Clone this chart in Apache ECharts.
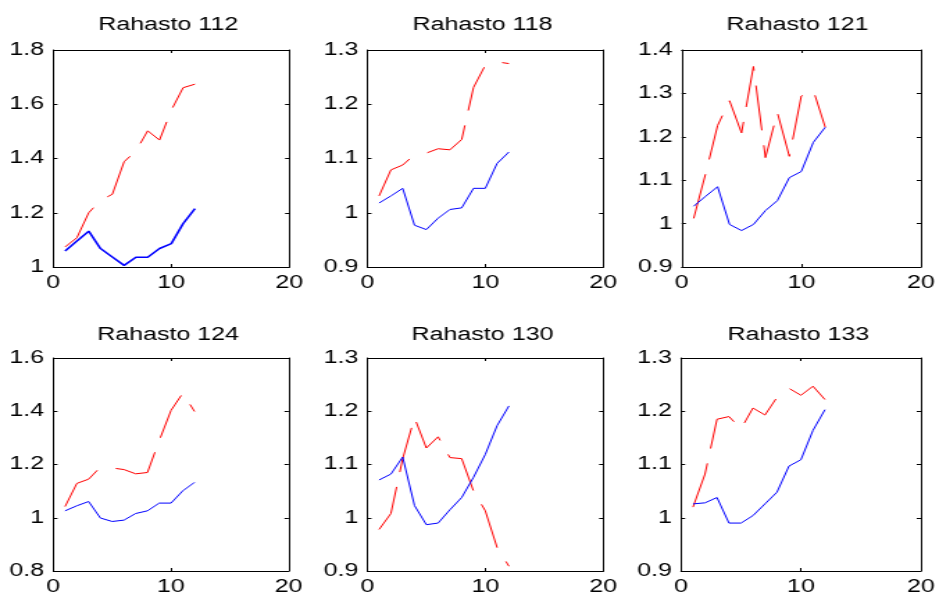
<!DOCTYPE html>
<html><head><meta charset="utf-8">
<script src="https://cdn.jsdelivr.net/npm/echarts@6/dist/echarts.min.js"></script>
<style>
html,body{margin:0;padding:0;background:#fff;overflow:hidden;width:939px;height:597px}
#chart{width:676px;height:597px;transform:scaleX(1.389);transform-origin:0 0}
</style></head><body><div id="chart"></div>
<script>
// ---- data ----
const months = [1, 2, 3, 4, 5, 6, 7, 8, 9, 10, 11, 12];
const fundNames = ['Rahasto 112', 'Rahasto 118', 'Rahasto 121', 'Rahasto 124', 'Rahasto 130', 'Rahasto 133'];
const xTicks = [0, 10, 20];
const yTicks112 = [1, 1.2, 1.4, 1.6, 1.8];
const yTicks118 = [0.9, 1, 1.1, 1.2, 1.3];
const yTicks121 = [0.9, 1, 1.1, 1.2, 1.3, 1.4];
const yTicks124 = [0.8, 1, 1.2, 1.4, 1.6];
const yTicks130 = [0.9, 1, 1.1, 1.2, 1.3];
const yTicks133 = [0.9, 1, 1.1, 1.2, 1.3];

const blue112 = [1.059, 1.096, 1.132, 1.068, 1.037, 1.006, 1.036, 1.036, 1.068, 1.086, 1.160, 1.215];
const red112  = [1.074, 1.108, 1.200, 1.246, 1.268, 1.388, 1.428, 1.502, 1.468, 1.578, 1.661, 1.674];
const blue118 = [1.018, 1.031, 1.045, 0.977, 0.969, 0.990, 1.006, 1.009, 1.045, 1.045, 1.091, 1.112];
const red118  = [1.031, 1.079, 1.088, 1.107, 1.110, 1.118, 1.116, 1.135, 1.231, 1.272, 1.278, 1.275];
const blue121 = [1.040, 1.063, 1.085, 0.998, 0.984, 0.998, 1.030, 1.053, 1.106, 1.120, 1.187, 1.222];
const red121  = [1.012, 1.115, 1.226, 1.283, 1.209, 1.362, 1.152, 1.256, 1.155, 1.294, 1.308, 1.222];
const blue124 = [1.026, 1.045, 1.061, 0.999, 0.986, 0.991, 1.016, 1.026, 1.055, 1.055, 1.101, 1.133];
const red124  = [1.042, 1.129, 1.145, 1.190, 1.187, 1.181, 1.165, 1.170, 1.290, 1.403, 1.468, 1.399];
const blue130 = [1.071, 1.082, 1.114, 1.023, 0.987, 0.990, 1.015, 1.038, 1.076, 1.119, 1.173, 1.210];
const red130  = [0.978, 1.008, 1.111, 1.188, 1.131, 1.152, 1.113, 1.111, 1.050, 1.013, 0.944, 0.909];
const blue133 = [1.026, 1.028, 1.038, 0.990, 0.990, 1.004, 1.026, 1.048, 1.097, 1.109, 1.164, 1.203];
const red133  = [1.020, 1.082, 1.185, 1.190, 1.167, 1.206, 1.193, 1.226, 1.243, 1.230, 1.247, 1.222];

const blueSeries = [blue112, blue118, blue121, blue124, blue130, blue133];
const redSeries = [red112, red118, red121, red124, red130, red133];
const yTickSets = [yTicks112, yTicks118, yTicks121, yTicks124, yTicks130, yTicks133];

// ---- layout (screen px, horizontally compressed by SX inside the transformed div) ----
const SX = 1.389;
const boxes = [
  {l: 53.3, r: 289.3, t: 50, b: 267, tx: 168.3, ty: 25},
  {l: 367.3, r: 603.3, t: 50, b: 267, tx: 482.5, ty: 25},
  {l: 681.7, r: 921.7, t: 50, b: 267, tx: 797.5, ty: 25},
  {l: 53.3, r: 288.7, t: 358, b: 571, tx: 168, ty: 335},
  {l: 367.3, r: 603.3, t: 358, b: 571, tx: 482.5, ty: 335},
  {l: 681.0, r: 921.7, t: 358, b: 571, tx: 798.3, ty: 335}
];
const FONT = 'Liberation Sans, Arial, sans-serif';
const FS = 18;
const fmt = v => String(+(+v).toFixed(2));

const grid = [], xAxis = [], yAxis = [], series = [], graphic = [];
boxes.forEach((b, i) => {
  grid.push({left: b.l / SX, top: b.t, width: (b.r - b.l) / SX, height: b.b - b.t, show: false});
  const yt = yTickSets[i];
  const yMin = yt[0], yMax = yt[yt.length - 1];
  const yInt = +(yt[1] - yt[0]).toFixed(2);
  const axLine = {show: true, onZero: false, lineStyle: {color: '#000', width: 1}};
  const tick = {show: true, inside: true, length: 3, lineStyle: {color: '#000', width: 1}};
  const lbl = {show: true, color: '#000', fontFamily: FONT, fontSize: FS, formatter: fmt};
  xAxis.push({gridIndex: i, type: 'value', position: 'bottom', min: xTicks[0], max: xTicks[xTicks.length - 1],
    interval: xTicks[1] - xTicks[0], axisLine: axLine, axisTick: tick, splitLine: {show: false},
    axisLabel: Object.assign({margin: 7}, lbl)});
  xAxis.push({gridIndex: i, type: 'value', position: 'top', min: xTicks[0], max: xTicks[xTicks.length - 1],
    interval: xTicks[1] - xTicks[0], axisLine: axLine, axisTick: tick, splitLine: {show: false},
    axisLabel: {show: false}});
  yAxis.push({gridIndex: i, type: 'value', position: 'left', min: yMin, max: yMax, interval: yInt,
    axisLine: axLine, axisTick: tick, splitLine: {show: false}, axisLabel: Object.assign({margin: 6.5}, lbl)});
  yAxis.push({gridIndex: i, type: 'value', position: 'right', min: yMin, max: yMax, interval: yInt,
    axisLine: axLine, axisTick: tick, splitLine: {show: false}, axisLabel: {show: false}});
  series.push({type: 'line', xAxisIndex: 2 * i, yAxisIndex: 2 * i, symbol: 'none', showSymbol: false,
    data: months.map((m, k) => [m, redSeries[i][k]]),
    lineStyle: {color: '#ff0000', width: 1, type: [45, 15]}, silent: true, z: 2});
  series.push({type: 'line', xAxisIndex: 2 * i, yAxisIndex: 2 * i, symbol: 'none', showSymbol: false,
    data: months.map((m, k) => [m, blueSeries[i][k]]),
    lineStyle: {color: '#0000ff', width: i === 0 ? 1.6 : 1}, silent: true, z: 3});
  graphic.push({type: 'text', x: b.tx / SX, y: b.ty, style: {text: fundNames[i], fill: '#000',
    fontFamily: FONT, fontSize: FS, align: 'center', verticalAlign: 'middle'}});
});

const chart = echarts.init(document.getElementById('chart'), null, {renderer: 'canvas'});
chart.setOption({animation: false, backgroundColor: '#fff', grid, xAxis, yAxis, series, graphic});
</script>
</body></html>
